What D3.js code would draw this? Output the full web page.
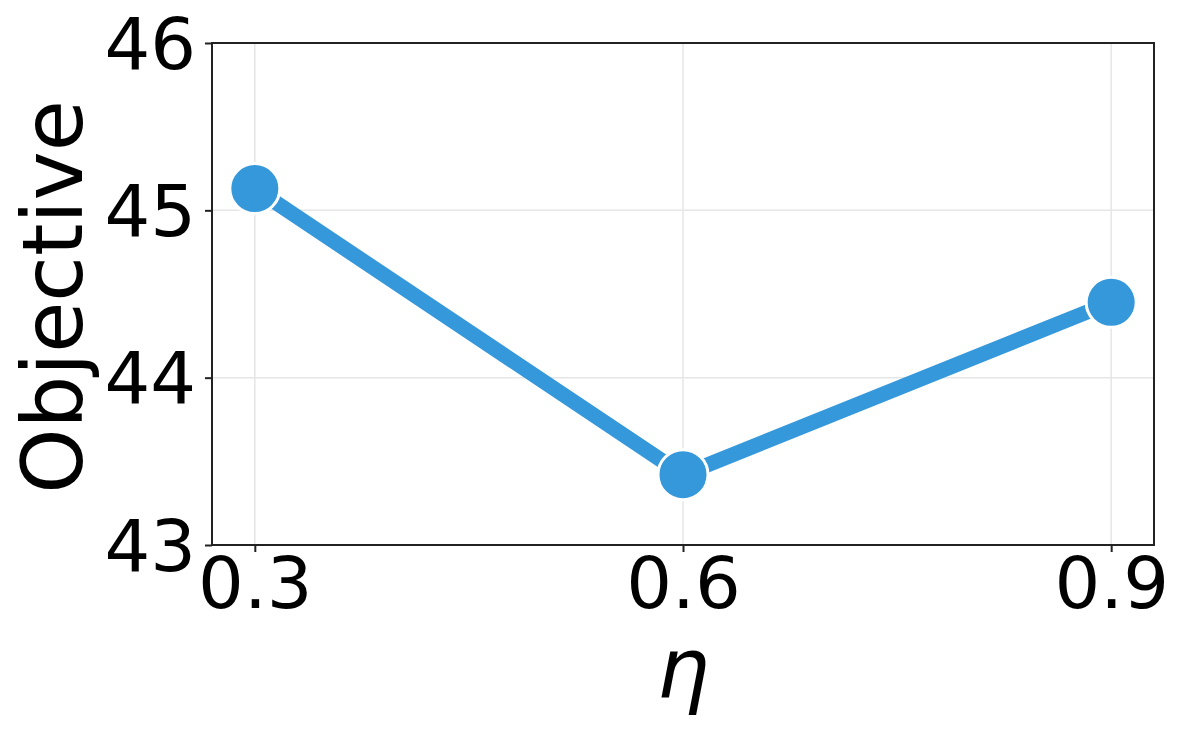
<!DOCTYPE html>
<html>
<head>
<meta charset="utf-8">
<script src="https://cdn.jsdelivr.net/npm/d3@7"></script>
<style>
  body { margin: 0; background: #fff; }
  text { font-family: "DejaVu Sans", sans-serif; }
</style>
</head>
<body>
<div class="chart"></div>
<script>
// data
const etaValues = [0.3, 0.6, 0.9];
const objectiveValues = [45.13, 43.42, 44.45];
const xTickValues = [0.3, 0.6, 0.9];
const yTickValues = [43, 44, 45, 46];

const svgWidth = 1184;
const svgHeight = 735;
const margin = { top: 43, right: 30, bottom: 190, left: 212 };
const width = 1154 - margin.left;
const height = 545 - margin.top;

const svg = d3.select(".chart")
  .append("svg")
  .attr("width", svgWidth)
  .attr("height", svgHeight);

const chartGroup = svg.append("g")
  .attr("transform", `translate(${margin.left}, ${margin.top})`);

// scales
const xScale = d3.scaleLinear()
  .domain([0.27, 0.93])
  .range([0, width]);

const yScale = d3.scaleLinear()
  .domain([43, 46])
  .range([height, 0]);

// grid lines
chartGroup.append("g")
  .selectAll("line")
  .data(xTickValues)
  .enter()
  .append("line")
  .attr("x1", d => xScale(d))
  .attr("x2", d => xScale(d))
  .attr("y1", 0)
  .attr("y2", height)
  .attr("stroke", "#e6e6e6")
  .attr("stroke-width", 1.5);

chartGroup.append("g")
  .selectAll("line")
  .data(yTickValues)
  .enter()
  .append("line")
  .attr("x1", 0)
  .attr("x2", width)
  .attr("y1", d => yScale(d))
  .attr("y2", d => yScale(d))
  .attr("stroke", "#e6e6e6")
  .attr("stroke-width", 1.5);

// axes
const xAxis = d3.axisBottom(xScale)
  .tickValues(xTickValues)
  .tickFormat(d3.format(".1f"))
  .tickSizeInner(7)
  .tickSizeOuter(0)
  .tickPadding(5);

const yAxis = d3.axisLeft(yScale)
  .tickValues(yTickValues)
  .tickFormat(d3.format("d"))
  .tickSizeInner(7)
  .tickSizeOuter(0)
  .tickPadding(9);

const xg = chartGroup.append("g")
  .attr("transform", `translate(0, ${height})`)
  .call(xAxis);

const yg = chartGroup.append("g")
  .call(yAxis);

[xg, yg].forEach(g => {
  g.select(".domain").remove();
  g.selectAll(".tick line").attr("stroke", "#222").attr("stroke-width", 2);
  g.selectAll(".tick text")
    .attr("fill", "#000")
    .style("font-size", "72px")
    .style("font-family", "DejaVu Sans, sans-serif");
});
xg.selectAll(".tick text").attr("dy", "0.71em");
yg.selectAll(".tick text").attr("dy", "0.35em");

// frame
chartGroup.append("rect")
  .attr("x", 0)
  .attr("y", 0)
  .attr("width", width)
  .attr("height", height)
  .attr("fill", "none")
  .attr("stroke", "#222")
  .attr("stroke-width", 2);

// line
const line = d3.line()
  .x((d, i) => xScale(etaValues[i]))
  .y(d => yScale(d));

chartGroup.append("path")
  .attr("d", line(objectiveValues))
  .attr("fill", "none")
  .attr("stroke", "#3498db")
  .attr("stroke-width", 15);

chartGroup.selectAll("circle")
  .data(objectiveValues)
  .enter()
  .append("circle")
  .attr("cx", (d, i) => xScale(etaValues[i]))
  .attr("cy", d => yScale(d))
  .attr("r", 25)
  .attr("fill", "#3498db")
  .attr("stroke", "#fff")
  .attr("stroke-width", 3);

// axis labels
svg.append("text")
  .attr("transform", `translate(82, ${margin.top + height / 2 + 3}) rotate(-90)`)
  .attr("text-anchor", "middle")
  .style("font-size", "83px")
  .attr("fill", "#000")
  .text("Objective");

svg.append("text")
  .attr("x", margin.left + xScale(0.6))
  .attr("y", 698)
  .attr("text-anchor", "middle")
  .style("font-size", "83px")
  .style("font-style", "italic")
  .attr("fill", "#000")
  .text("η");
</script>
</body>
</html>
